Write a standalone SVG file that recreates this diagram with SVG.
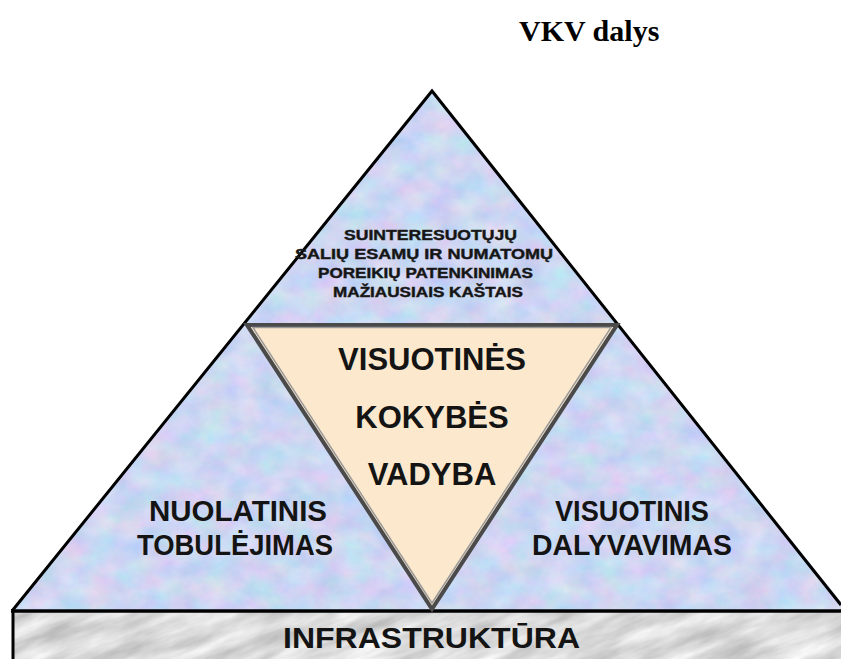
<svg xmlns="http://www.w3.org/2000/svg" width="841" height="659" viewBox="0 0 841 659">
  <style>
    .sans { font-family: "Liberation Sans", Arial, sans-serif; font-weight: bold; fill: #141414; }
    .small { font-size: 15px; stroke: #222; stroke-width: 0.45px; }
    .mid { font-size: 29px; }
    .big { font-size: 31px; }
    .title { font-family: "Liberation Serif", "Times New Roman", serif; font-weight: bold; font-size: 30px; fill: #000; }
  </style>
  <defs>
    <!-- light periwinkle marble for the pyramid body -->
    <filter id="marbleBlue" x="0" y="0" width="100%" height="100%" color-interpolation-filters="sRGB">
      <feTurbulence type="fractalNoise" baseFrequency="0.035 0.045" numOctaves="4" seed="7" result="n"/>
      <feColorMatrix in="n" type="matrix" values="0.26 0 0 0 0.67  0 0.16 0 0 0.76  0 0 0.08 0 0.91  0 0 0 0 1" result="c"/>
      <feComposite in="c" in2="SourceGraphic" operator="in"/>
    </filter>
    <!-- grey streaked marble for the foundation slab -->
    <filter id="marbleGrey" x="0" y="0" width="100%" height="100%" color-interpolation-filters="sRGB">
      <feTurbulence type="fractalNoise" baseFrequency="0.015 0.07" numOctaves="4" seed="3" result="n"/>
      <feColorMatrix in="n" type="matrix" values="0.36 0 0 0 0.68  0.36 0 0 0 0.68  0.36 0 0 0 0.68  0 0 0 0 1" result="c"/>
      <feComposite in="c" in2="SourceGraphic" operator="in"/>
    </filter>
    <clipPath id="baseClip">
      <rect x="13" y="611" width="828" height="48"/>
    </clipPath>
  </defs>

  <!-- heading -->
  <g id="title">
    <text class="title" x="519" y="41">VKV dalys</text>
  </g>

  <!-- foundation slab -->
  <g id="infrastruktura">
    <g clip-path="url(#baseClip)">
      <rect x="-200" y="400" width="1300" height="500" fill="#dcdcdc" transform="rotate(-22 430 635)" filter="url(#marbleGrey)"/>
    </g>
    <line x1="13" y1="611" x2="13" y2="659" stroke="#000" stroke-width="3"/>
    <text class="sans" x="283" y="648" font-size="29" textLength="297" lengthAdjust="spacingAndGlyphs">INFRASTRUKTŪRA</text>
  </g>

  <!-- outer pyramid -->
  <g id="pyramid">
    <polygon points="432,91 12,611 841,611 841,602" fill="#c9d7f3" filter="url(#marbleBlue)"/>
    <polyline points="12,611 432,91 841,605" fill="none" stroke="#000" stroke-width="3" stroke-linejoin="miter"/>
    <line x1="11" y1="611" x2="841" y2="611" stroke="#000" stroke-width="3.5"/>
  </g>

  <!-- top section text -->
  <g id="tikslas" class="sans small">
    <text x="344" y="240" textLength="173" lengthAdjust="spacingAndGlyphs">SUINTERESUOTŲJŲ</text>
    <text x="295" y="259" textLength="258" lengthAdjust="spacingAndGlyphs">SALIŲ ESAMŲ IR NUMATOMŲ</text>
    <text x="318" y="278" textLength="215" lengthAdjust="spacingAndGlyphs">POREIKIŲ PATENKINIMAS</text>
    <text x="333" y="297" textLength="190" lengthAdjust="spacingAndGlyphs">MAŽIAUSIAIS KAŠTAIS</text>
  </g>

  <!-- inverted central triangle -->
  <g id="vkv">
    <polygon points="247,325 617,325 432,609" fill="#fbe8cd" stroke="#4a4a4a" stroke-width="4" stroke-linejoin="miter"/>
    <polygon points="253,327.5 611,327.5 432,603" fill="none" stroke="#9a9a9a" stroke-width="1.5"/>
    <text class="sans big" x="432" y="370" text-anchor="middle">VISUOTINĖS</text>
    <text class="sans big" x="432" y="428" text-anchor="middle">KOKYBĖS</text>
    <text class="sans big" x="432" y="485" text-anchor="middle">VADYBA</text>
  </g>

  <!-- left section -->
  <g id="tobulejimas" class="sans mid">
    <text x="149" y="521" textLength="178" lengthAdjust="spacingAndGlyphs">NUOLATINIS</text>
    <text x="137" y="555" textLength="196" lengthAdjust="spacingAndGlyphs">TOBULĖJIMAS</text>
  </g>

  <!-- right section -->
  <g id="dalyvavimas" class="sans mid">
    <text x="555" y="521" textLength="154" lengthAdjust="spacingAndGlyphs">VISUOTINIS</text>
    <text x="532" y="555" textLength="200" lengthAdjust="spacingAndGlyphs">DALYVAVIMAS</text>
  </g>
</svg>
